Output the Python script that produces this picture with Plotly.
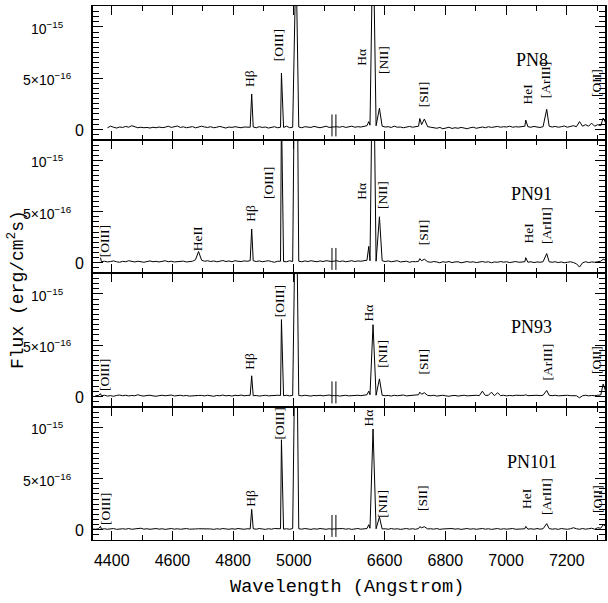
import plotly.graph_objects as go
from plotly.subplots import make_subplots

SCALE = 1e-16  # fluxes below are in units of 1e-16 erg/cm^2/s

panels = ["PN8", "PN91", "PN93", "PN101"]

# sampling wavelengths of the two spectral windows (Angstrom)
left_grid = list(range(4336, 5137, 10))    # 81 samples
right_grid = list(range(6432, 7333, 10))   # 91 samples

# emission lines (Angstrom)
left_lines = [4363, 4686, 4861, 4959, 5007]
right_lines = [6548, 6562, 6583, 6716, 6731, 7065, 7134, 7320]

# ---- continuum, blue window ----
cont_left_PN8 = [None, None, None, None, None,
    0.15, 0.3, 0.2, 0.12, 0.22, 0.18, 0.28, 0.2, 0.35, 0.25,
    0.15, 0.2, 0.15, 0.18, 0.12, 0.2, 0.15, 0.22, 0.16, 0.2,
    0.3, 0.18, 0.22, 0.32, 0.18, 0.24, 0.15, 0.2, 0.26, 0.14,
    0.2, 0.3, 0.22, 0.18, 0.25, 0.15, 0.2, 0.28, 0.2, 0.12,
    0.22, 0.18, 0.25, 0.2, 0.15, 0.22, 0.18, 0.2, 0.22, 0.15,
    0.25, 0.18, 0.22, 0.12, 0.2, 0.25, 0.15, 0.2, 0.18, 0.3,
    0.15, 0.2, 0.2, 0.22,
    0.15, 0.25, 0.2, 0.18, 0.28, 0.2, 0.15, 0.22, 0.3, 0.18, 0.2, 0.25]
cont_left_PN91 = [None, None, None, 0.1,
    0.15, 0.08, 0.12, 0.18, 0.1, 0.05, 0.14, 0.1, 0.2, 0.12, 0.08, 0.15, 0.1, 0.05, 0.12, 0.18,
    0.1, 0.14, 0.08, 0.12, 0.2, 0.1, 0.15, 0.08, 0.12, 0.1, 0.16, 0.08, 0.12, 0.15, 0.3,
    0.2, 0.25,
    0.15, 0.2, 0.12, 0.18, 0.1, 0.15, 0.22, 0.12, 0.18, 0.1, 0.2, 0.15, 0.12, 0.18, 0.15,
    0.2, 0.2,
    0.12, 0.18, 0.1, 0.15, 0.2, 0.12, 0.05, 0.15,
    0.15, 0.12,
    0.1, 0.2, 0.12,
    0.15, 0.15,
    0.1, 0.18, 0.12, 0.2, 0.15, 0.1, 0.18, 0.12, 0.2, 0.15, 0.12, 0.18]
cont_left_PN93 = [None, 0.05, 0.08, 0.05,
    0.1, 0.02, 0.06, 0.0, 0.08, 0.12, 0.05, 0.1, 0.03, 0.08, 0.05, 0.15, 0.06, 0.02, 0.08, 0.1,
    0.04, 0.0, 0.06, 0.1, 0.05, 0.08, 0.12, 0.03, 0.06, 0.1, 0.04, 0.08, 0.02, 0.06, 0.1,
    0.05, 0.08,
    0.04, 0.1, 0.06, 0.0, 0.08, 0.05, 0.12, 0.04, 0.08, 0.02, 0.1, 0.06, 0.12, 0.05, 0.08,
    0.1, 0.05,
    0.08, 0.02, 0.06, 0.1, 0.04, 0.08, 0.05, 0.1,
    0.08, 0.05,
    0.1, 0.04, 0.08,
    0.05, 0.08,
    0.04, 0.1, 0.06, 0.02, 0.08, 0.05, 0.1, 0.04, 0.08, 0.12, 0.05, 0.08]
cont_left_PN101 = [0.08, 0.05, 0.1, 0.06,
    0.1, 0.05, 0.08, 0.12, 0.04, 0.08, 0.1, 0.06, 0.12, 0.05, 0.08, 0.1, 0.15, 0.06, 0.1, 0.05,
    0.08, 0.12, 0.06, 0.1, 0.04, 0.08, 0.12, 0.06, 0.1, 0.05, 0.08, 0.12, 0.06, 0.1, 0.08,
    0.08, 0.1,
    0.06, 0.12, 0.08, 0.04, 0.1, 0.06, 0.12, 0.08, 0.05, 0.1, 0.06, 0.12, 0.08, 0.05, 0.1,
    0.08, 0.1,
    0.06, 0.12, 0.08, 0.04, 0.1, 0.06, 0.12, 0.08,
    0.1, 0.06,
    0.1, 0.05, 0.12,
    0.1, 0.1,
    0.06, 0.12, 0.08, 0.04, 0.1, 0.06, 0.12, 0.08, 0.05, 0.1, 0.06, 0.1]

# ---- continuum, red window ----
cont_right_PN8 = [0.22, 0.25, 0.2, 0.28, 0.18, 0.22, 0.3, 0.2, 0.25, 0.22, 0.3,
    0.35, 0.4, 0.3, 0.35, 0.3, 0.3,
    0.22, 0.25, 0.18, 0.3, 0.2, 0.22, 0.15, 0.25, 0.28, 0.2, 0.25,
    0.3, 0.45, 0.3, 0.25,
    0.2, 0.15, 0.1, 0.18, 0.05, 0.12, 0.2, 0.08, 0.15, 0.1, 0.18, 0.12, 0.05, 0.15, 0.2, 0.1,
    0.18, 0.22, 0.15, 0.25, 0.18, 0.2, 0.28, 0.2, 0.25, 0.22, 0.3, 0.2, 0.25, 0.22, 0.28,
    0.3, 0.25,
    0.2, 0.28, 0.22, 0.18, 0.25,
    0.3, 0.3,
    0.22, 0.28, 0.2, 0.25, 0.32, 0.2, 0.28, 0.35, 0.25,
    0.75, 0.3, 0.45, 0.3, 0.6, 0.3, 0.45, 0.35, 0.3, 0.4]
cont_right_PN91 = [0.15, 0.2, 0.12, 0.18, 0.1, 0.15, 0.2, 0.12, 0.18, 0.15, 0.2,
    0.25, 0.2, 0.2, 0.15, 0.2, 0.2,
    0.12, 0.18, 0.1, 0.15, 0.2, 0.08, 0.12, 0.15, 0.05, 0.12, 0.1,
    0.15, 0.2, 0.1, 0.1,
    0.05, 0.12, 0.08, 0.0, 0.1, 0.05, 0.12, 0.02, 0.08, 0.1, 0.0, 0.06, 0.12, 0.05, 0.1, 0.02,
    0.08, 0.12, 0.05, 0.1, 0.0, 0.08, 0.05, 0.12, 0.06, 0.1, 0.02, 0.08, 0.12, 0.05, 0.1,
    0.1, 0.05,
    0.1, 0.02, 0.08, 0.05, 0.1,
    0.1, 0.1,
    0.05, 0.1, 0.02, 0.08, 0.0, 0.05, 0.1, 0.02, -0.1,
    -0.42, 0.0, 0.1, 0.02, 0.08, 0.05, 0.1, 0.15, 0.1, 0.2]
cont_right_PN93 = [0.05, 0.08, 0.02, 0.06, 0.1, 0.04, 0.08, 0.05, 0.1, 0.06, 0.1,
    0.15, 0.15, 0.1, 0.1, 0.1, 0.1,
    0.05, 0.08, 0.02, 0.1, 0.05, 0.08, 0.12, 0.04, 0.08, 0.05, 0.1,
    0.15, 0.2, 0.1, 0.08,
    0.05, 0.1, 0.02, 0.06, 0.1, 0.04, 0.0, 0.06, 0.08, 0.02, 0.06, 0.1, 0.04, 0.08, 0.05, 0.1,
    0.06, 0.5, 0.08, 0.1, 0.4, 0.05, 0.35, 0.06, 0.1, 0.04, 0.08, 0.05, 0.1, 0.06, 0.08,
    0.1, 0.06,
    0.08, 0.04, 0.1, 0.06, 0.1,
    0.1, 0.1,
    0.06, 0.1, 0.04, 0.08, 0.05, 0.1, 0.06, 0.02, 0.05,
    -0.15, 0.05, 0.1, 0.04, 0.08, 0.05, 0.1, 0.12, 0.1, 0.15]
cont_right_PN101 = [0.08, 0.1, 0.05, 0.12, 0.06, 0.1, 0.04, 0.08, 0.12, 0.06, 0.1,
    0.12, 0.15, 0.1, 0.1, 0.1, 0.08,
    0.1, 0.05, 0.12, 0.06, 0.1, 0.04, 0.08, 0.12, 0.06, 0.1, 0.05,
    0.12, 0.2, 0.1, 0.08,
    0.1, 0.06, 0.12, 0.04, 0.08, 0.1, 0.05, 0.12, 0.06, 0.1, 0.04, 0.08, 0.12, 0.06, 0.1, 0.05,
    0.08, 0.12, 0.06, 0.1, 0.04, 0.08, 0.12, 0.05, 0.1, 0.06, 0.08, 0.12, 0.05, 0.1, 0.08,
    0.1, 0.06,
    0.1, 0.05, 0.12, 0.06, 0.1,
    0.1, 0.12,
    0.06, 0.1, 0.04, 0.12, 0.08, 0.05, 0.1, 0.2, 0.1,
    0.05, 0.12, 0.06, 0.1, 0.15, 0.05, 0.2, 0.15, 0.2, 0.3]

# ---- line peak fluxes (off-scale lines estimated) ----
peaks_left = {
    "PN8":   [None, 0.25, 3.45, 5.5, 17],
    "PN91":  [0.5, 1.1, 3.3, 15, 35],
    "PN93":  [0.25, 0.08, 2.0, 7.5, 23],
    "PN101": [0.33, 0.1, 2.0, 8.8, 26],
}
peaks_right = {
    "PN8":   [0.75, 20, 2.05, 1.05, 1.0, 0.9, 1.95, 1.1],
    "PN91":  [1.6, 25, 4.5, 0.4, 0.35, 0.5, 0.9, 0.35],
    "PN93":  [0.5, 7.0, 1.7, 0.4, 0.35, 0.15, 0.57, 1.2],
    "PN101": [0.5, 9.85, 1.25, 0.3, 0.3, 0.33, 0.6, 0.5],
}
cont_left = {"PN8": cont_left_PN8, "PN91": cont_left_PN91,
             "PN93": cont_left_PN93, "PN101": cont_left_PN101}
cont_right = {"PN8": cont_right_PN8, "PN91": cont_right_PN91,
              "PN93": cont_right_PN93, "PN101": cont_right_PN101}

# ---- line identifications: (text, wavelength, height in 1e-16) ----
line_labels = {
    "PN8": [("Hβ", 4856, 4.92), ("[OIII]", 4952, 8.24), ("Hα", 6525, 7.07),
            ("[NII]", 6595, 6.77), ("[SII]", 6731, 3.45), ("HeI", 7071, 3.45),
            ("[ArIII]", 7133, 4.82), ("[OII]", 7300, 4.53)],
    "PN91": [("[OIII]", 4379, 2.13), ("HeII", 4681, 2.3), ("Hβ", 4858, 4.87),
             ("[OIII]", 4918, 7.8), ("Hα", 6525, 7.02), ("[NII]", 6595, 6.63),
             ("[SII]", 6729, 2.96), ("HeI", 7071, 2.91), ("[ArIII]", 7135, 3.6)],
    "PN93": [("[OIII]", 4378, 2.08), ("Hβ", 4856, 3.38), ("[OIII]", 4955, 9.32),
             ("Hα", 6547, 8.14), ("[NII]", 6595, 4.16), ("[SII]", 6729, 3.38),
             ("[ArIII]", 7135, 3.3), ("[OII]", 7300, 3.55)],
    "PN101": [("[OIII]", 4378, 2.03), ("Hβ", 4856, 3.04), ("[OIII]", 4952, 10.41),
              ("Hα", 6547, 10.93), ("[NII]", 6595, 2.55), ("[SII]", 6727, 3.11),
              ("HeI", 7069, 3.11), ("[ArIII]", 7135, 3.21), ("[OII]", 7303, 3.01)],
}
name_pos = {"PN8": 6.77, "PN91": 6.73, "PN93": 6.73, "PN101": 6.63}

x_ticks_left = [4400, 4600, 4800, 5000]
x_ticks_right = [6600, 6800, 7000, 7200]
y_tick_vals = [0, 5e-16, 1e-15]
y_tick_text = ["0", "5×10<sup>−16</sup>", "10<sup>−15</sup>"]

for p in panels:
    assert len(cont_left[p]) == len(left_grid), p
    assert len(cont_right[p]) == len(right_grid), p

# ------------------------------------------------------------------
W, H = 608, 603
ML, MR, MT, MB = 93, 3, 6, 63
PW, PH = W - ML - MR, H - MT - MB
XL = [4338.3, 5132.9]
XR = [6434.2, 7326.0]
YR = [-1.0e-16, 1.205e-15]

fig = make_subplots(rows=4, cols=2, column_widths=[XL[1] - XL[0], XR[1] - XR[0]],
                    horizontal_spacing=0, vertical_spacing=0)


def merge(grid, cont, lines, peaks):
    pts = [(g, v) for g, v in zip(grid, cont) if all(abs(g - l) >= 3 for l in lines)]
    pts += list(zip(lines, peaks))
    pts.sort(key=lambda t: t[0])
    xs = [t[0] for t in pts]
    ys = [None if t[1] is None else t[1] * SCALE for t in pts]
    return xs, ys


def axname(r, c):
    i = (r - 1) * 2 + c
    return ("x" if i == 1 else f"x{i}"), ("y" if i == 1 else f"y{i}")


serif = "Liberation Serif, Times New Roman, serif"
sans = "Liberation Sans, Arial, sans-serif"
mono = "Courier New, Liberation Mono, monospace"

annotations = []
shapes = []
for r, p in enumerate(panels, start=1):
    xs, ys = merge(left_grid, cont_left[p], left_lines, peaks_left[p])
    fig.add_trace(go.Scatter(x=xs, y=ys, mode="lines", line=dict(color="black", width=1),
                             showlegend=False, hoverinfo="skip"), row=r, col=1)
    xs, ys = merge(right_grid, cont_right[p], right_lines, peaks_right[p])
    fig.add_trace(go.Scatter(x=xs, y=ys, mode="lines", line=dict(color="black", width=1),
                             showlegend=False, hoverinfo="skip"), row=r, col=2)

    xa1, ya1 = axname(r, 1)
    xa2, ya2 = axname(r, 2)
    # line labels
    for text, wl, h in line_labels[p]:
        xa, ya = (xa1, ya1) if wl < 6000 else (xa2, ya2)
        annotations.append(dict(text=text, x=wl, y=h * SCALE, xref=xa, yref=ya,
                                textangle=-90, showarrow=False, xanchor="center",
                                yanchor="middle", font=dict(family=serif, size=13.5, color="black")))
    annotations.append(dict(text=p, x=7084, y=name_pos[p] * SCALE, xref=xa2, yref=ya2,
                            showarrow=False, xanchor="center", yanchor="middle",
                            font=dict(family=serif, size=18, color="black")))
    # y tick labels
    for val, txt, px_right, fs in zip(y_tick_vals, y_tick_text, [86, 73.5, 66], [16, 14, 14]):
        annotations.append(dict(text=txt, x=(px_right - ML) / PW, xref="paper",
                                y=val, yref=ya1, xanchor="right", yanchor="middle",
                                yshift=-1, showarrow=False,
                                font=dict(family=sans, size=fs, color="black")))
    # axis-break marks
    shapes.append(dict(type="line", xref=xa1, yref=ya1, x0=XL[1] - 7.5, x1=XL[1] - 7.5,
                       y0=-0.7 * SCALE, y1=1.45 * SCALE, line=dict(color="black", width=1)))
    shapes.append(dict(type="line", xref=xa2, yref=ya2, x0=XR[0] + 5.5, x1=XR[0] + 5.5,
                       y0=-0.7 * SCALE, y1=1.45 * SCALE, line=dict(color="black", width=1)))

    common_x = dict(ticks="inside", ticklen=9, tickwidth=1, tickcolor="black",
                    showline=True, linecolor="black", linewidth=1, mirror="ticks",
                    showgrid=False, zeroline=False, tickmode="linear", dtick=200,
                    tickformat="d", showticklabels=(r == 4), ticklabelstandoff=6,
                    tickfont=dict(family=sans, size=16, color="black"))
    fig.update_xaxes(row=r, col=1, range=XL, tick0=x_ticks_left[0],
                     minor=dict(ticks="inside", dtick=100, tick0=x_ticks_left[0],
                                ticklen=5, tickcolor="black", showgrid=False), **common_x)
    fig.update_xaxes(row=r, col=2, range=XR, tick0=x_ticks_right[0],
                     minor=dict(ticks="inside", dtick=100, tick0=x_ticks_right[0],
                                ticklen=5, tickcolor="black", showgrid=False), **common_x)
    common_y = dict(range=YR, ticks="inside", ticklen=10, tickwidth=1, tickcolor="black",
                    showline=True, linecolor="black", linewidth=1.5, mirror=False,
                    showgrid=False, zeroline=False, tickmode="array", tickvals=y_tick_vals,
                    showticklabels=False,
                    minor=dict(ticks="inside", dtick=5e-17, tick0=0, ticklen=6,
                               tickcolor="black", showgrid=False))
    fig.update_yaxes(row=r, col=1, **common_y)
    fig.update_yaxes(row=r, col=2, side="right", **common_y)

# axis titles
annotations.append(dict(text="Wavelength (Angstrom)", xref="paper", yref="paper",
                        x=(347 - ML) / PW, y=(MT + PH - 587) / PH, xanchor="center",
                        yanchor="middle", showarrow=False,
                        font=dict(family=mono, size=18.6, color="black")))
annotations.append(dict(text="Flux (erg/cm<sup>2</sup>s)", xref="paper", yref="paper",
                        x=(16 - ML) / PW, y=(MT + PH - 290) / PH, xanchor="center",
                        yanchor="middle", textangle=-90, showarrow=False,
                        font=dict(family=mono, size=18, color="black")))

fig.update_layout(width=W, height=H, margin=dict(l=ML, r=MR, t=MT, b=MB, pad=0),
                  plot_bgcolor="white", paper_bgcolor="white",
                  annotations=annotations, shapes=shapes, showlegend=False)

fig.write_html("out.html", config={"displayModeBar": False})
